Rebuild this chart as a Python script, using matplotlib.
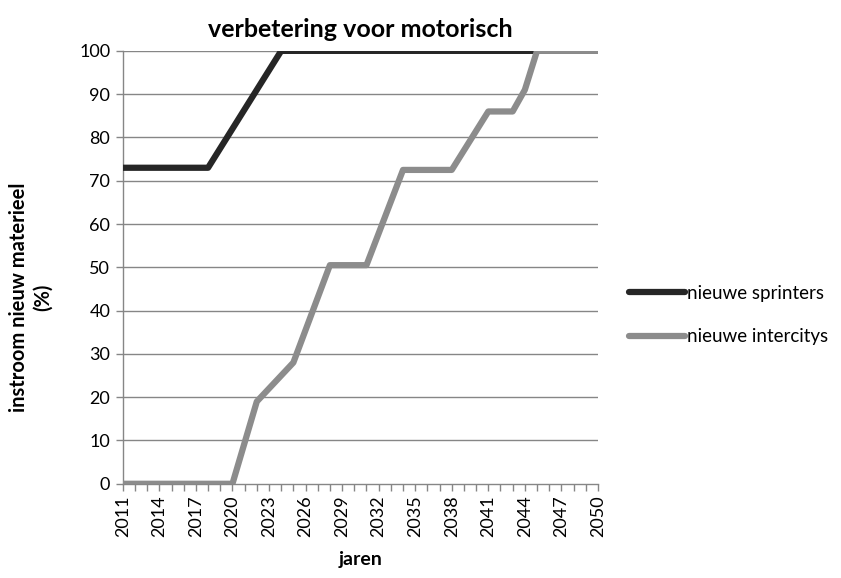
import matplotlib.pyplot as plt

plt.rcParams['font.family'] = ['Lato', 'DejaVu Sans']

# data (kink points of each line)
spr_years = [2011, 2018, 2024, 2050]
spr_vals = [73, 73, 100, 100]

ic_years = [2011, 2020, 2022, 2025, 2028, 2031, 2034, 2038, 2041, 2043, 2044, 2045, 2050]
ic_vals = [0, 0, 19, 28, 50.5, 50.5, 72.5, 72.5, 86, 86, 91, 100, 100]

xticks = list(range(2011, 2051, 3))
yticks = list(range(0, 101, 10))

fig = plt.figure(figsize=(8.41, 5.78), dpi=100)
ax = fig.add_axes([0.146, 0.163, 0.565, 0.749])

grid_col = '#868686'
for y in yticks[1:]:
    ax.axhline(y, color=grid_col, lw=1.0, zorder=1)

ax.plot(spr_years, spr_vals, color='#262626', lw=4.5, solid_capstyle='round',
        solid_joinstyle='round', label='nieuwe sprinters', zorder=3)
ax.plot(ic_years, ic_vals, color='#8c8c8c', lw=4.5, solid_capstyle='round',
        solid_joinstyle='round', label='nieuwe intercitys', zorder=4)

ax.set_xlim(2011, 2050)
ax.set_ylim(0, 100)
ax.set_xticks(xticks)
ax.set_xticks(range(2011, 2051), minor=True)
ax.set_xticklabels([str(x) for x in xticks], rotation=90, fontsize=13)
ax.set_yticks(yticks)
ax.set_yticklabels([str(y) for y in yticks], fontsize=13)
ax.tick_params(axis='both', which='both', direction='out', color=grid_col, length=5, width=1)
ax.tick_params(axis='y', pad=4)

for s in ['top', 'right']:
    ax.spines[s].set_visible(False)
for s in ['left', 'bottom']:
    ax.spines[s].set_color(grid_col)
    ax.spines[s].set_linewidth(1.0)

ax.set_title('verbetering voor motorisch', fontsize=18, fontweight='bold', pad=10)
ax.set_xlabel('jaren', fontsize=14, fontweight='bold', labelpad=10)
ax.set_ylabel('instroom nieuw materieel\n(%)', fontsize=14.5, fontweight='bold')
ax.yaxis.set_label_coords(-0.148, 0.43)

ax.legend(loc='center left', bbox_to_anchor=(1.03, 0.39), frameon=False, fontsize=13.5,
          handlelength=3.0, handletextpad=0.1, labelspacing=1.4)

fig.savefig('out.png', dpi=100)
